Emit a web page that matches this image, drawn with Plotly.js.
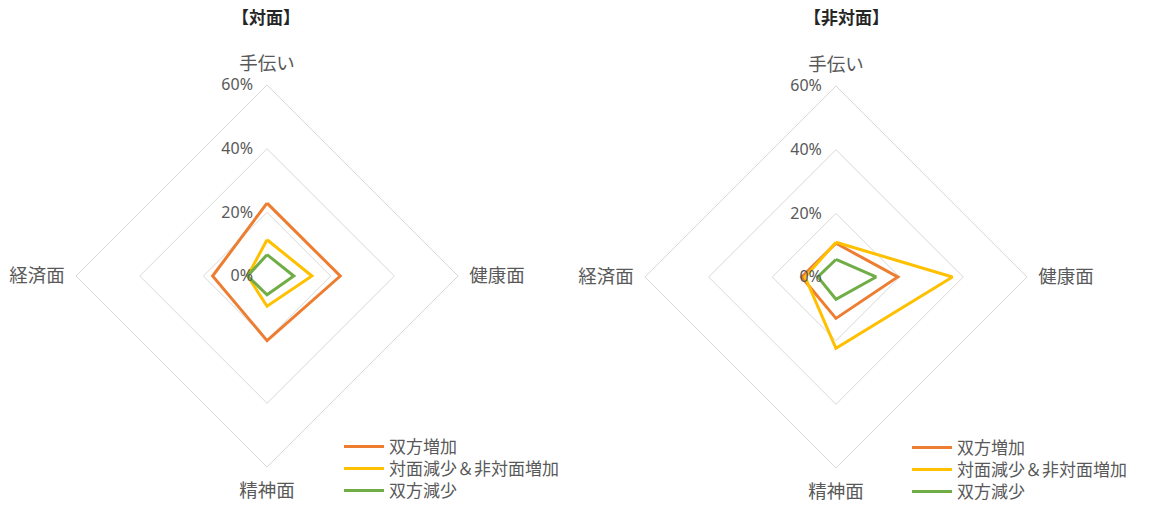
<!DOCTYPE html>
<html>
<head>
<meta charset="utf-8">
<script src="https://cdn.plot.ly/plotly-3.0.1.min.js"></script>
<style>html,body{margin:0;padding:0;background:#fff}#chart{width:1154px;height:505px}</style>
</head>
<body>
<div id="chart"></div>
<script>
// categories (clockwise from top)
const categories = ['手伝い', '健康面', '精神面', '経済面'];
const seriesNames = ['双方増加', '対面減少＆非対面増加', '双方減少'];
const titles = ['【対面】', '【非対面】'];
const radialTicks = [0, 20, 40, 60];
const radialTickText = ['0%', '20%', '40%', '60%'];

// 【対面】 values (%)
const faceBothInc   = [22.9, 23.0, 20.3, 17.1];
const faceMixed     = [11.4, 14.1, 9.5, 6.1];
const faceBothDec   = [6.7, 8.4, 5.9, 6.1];
// 【非対面】 values (%)
const onlineBothInc = [10.6, 19.4, 13.0, 10.8];
const onlineMixed   = [10.9, 36.6, 22.4, 9.7];
const onlineBothDec = [5.5, 12.6, 7.0, 5.7];

const colors = ['#ED7D31', '#FFC000', '#70AD47'];
const FONT = 'Noto Sans, Noto Sans CJK JP, sans-serif';
const close = a => a.concat([a[0]]);

const groups = [
  {polar: 'polar',  legends: ['legend', 'legend2', 'legend3'], data: [faceBothInc, faceMixed, faceBothDec]},
  {polar: 'polar2', legends: ['legend4', 'legend5', 'legend6'], data: [onlineBothInc, onlineMixed, onlineBothDec]}
];
const traces = [];
groups.forEach(g => {
  g.data.forEach((vals, i) => {
    traces.push({
      type: 'scatterpolar', mode: 'lines',
      r: close(vals), theta: close(categories),
      name: seriesNames[i], subplot: g.polar, legend: g.legends[i],
      line: {color: colors[i], width: 3}, hoverinfo: 'skip'
    });
  });
});

function polarCfg(xd, yd) {
  return {
    domain: {x: xd, y: yd},
    gridshape: 'linear', bgcolor: 'rgba(0,0,0,0)',
    radialaxis: {
      range: [0, 60], tickvals: radialTicks, ticktext: radialTickText,
      angle: 90, side: 'counterclockwise', showline: false,
      ticks: 'outside', ticklen: 8, tickcolor: 'rgba(0,0,0,0)',
      gridcolor: '#D9D9D9', gridwidth: 1,
      tickfont: {family: FONT, size: 16, color: '#595959'}, tickangle: 90
    },
    angularaxis: {
      direction: 'clockwise', rotation: 90, type: 'category',
      categoryarray: categories,
      showgrid: false, showline: true, linecolor: '#D9D9D9', linewidth: 1,
      ticks: 'outside', ticklen: 7, tickcolor: 'rgba(0,0,0,0)',
      tickfont: {family: FONT, size: 18.5, color: '#595959'}
    }
  };
}

const legendCfg = (x, y) => ({
  x: x, y: y, xanchor: 'left', yanchor: 'middle', bgcolor: 'rgba(0,0,0,0)',
  font: {family: FONT, size: 17, color: '#595959'}, itemwidth: 40
});

const layout = {
  width: 1154, height: 505, autosize: false,
  margin: {l: 0, r: 0, t: 0, b: 0, autoexpand: false},
  paper_bgcolor: '#fff',
  showlegend: true,
  polar: polarCfg([0.0659, 0.3969], [0.0752, 0.8317]),
  polar2: polarCfg([0.5589, 0.8899], [0.0733, 0.8297]),
  legend:  legendCfg(339/1154, 1 - 447/505),
  legend2: legendCfg(339/1154, 1 - 469/505),
  legend3: legendCfg(339/1154, 1 - 491/505),
  legend4: legendCfg(907/1154, 1 - 448/505),
  legend5: legendCfg(907/1154, 1 - 470/505),
  legend6: legendCfg(907/1154, 1 - 492/505),
  annotations: [
    {text: '<b>' + titles[0] + '</b>', xref: 'paper', yref: 'paper', x: 266/1154, y: 1 - 17/505,
     xanchor: 'center', yanchor: 'middle', showarrow: false, font: {family: FONT, size: 17, color: '#262626'}},
    {text: '<b>' + titles[1] + '</b>', xref: 'paper', yref: 'paper', x: 846/1154, y: 1 - 17/505,
     xanchor: 'center', yanchor: 'middle', showarrow: false, font: {family: FONT, size: 17, color: '#262626'}}
  ]
};

Plotly.newPlot('chart', traces, layout, {staticPlot: true});
</script>
</body>
</html>
